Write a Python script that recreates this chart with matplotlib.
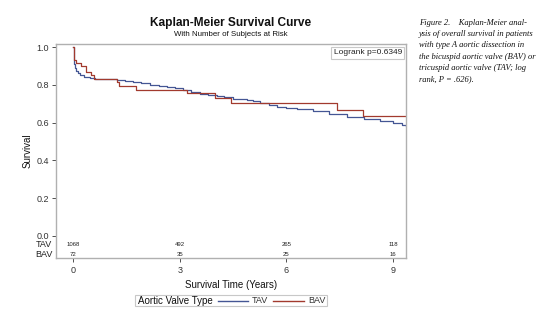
import matplotlib
matplotlib.use("Agg")
import matplotlib.pyplot as plt
from matplotlib.lines import Line2D
from matplotlib.patches import Rectangle

plt.rcParams['font.family'] = ['Liberation Sans', 'DejaVu Sans']

# ---- data ----
tav_t = [0, 0.01, 0.02, 0.04, 0.08, 0.13, 0.2, 0.31, 0.47, 0.6, 0.8, 1.0, 1.22, 1.45,
         1.68, 1.9, 2.16, 2.4, 2.63, 2.85, 3.09, 3.3, 3.57, 3.8, 4.04, 4.25, 4.5, 4.7,
         4.88, 5.05, 5.26, 5.5, 5.73, 6.0, 6.3, 6.75, 7.2, 7.7, 8.2, 8.64, 9.0, 9.25, 9.37]
tav_s = [1.0, 0.95, 0.91, 0.888, 0.875, 0.861, 0.853, 0.843, 0.838, 0.833, 0.831, 0.829,
         0.826, 0.819, 0.813, 0.807, 0.801, 0.795, 0.789, 0.782, 0.775, 0.763, 0.752, 0.745,
         0.739, 0.733, 0.727, 0.724, 0.721, 0.712, 0.704, 0.693, 0.683, 0.678, 0.671, 0.660,
         0.645, 0.630, 0.618, 0.607, 0.596, 0.587, 0.580]

bav_t = [0, 0.01, 0.03, 0.08, 0.22, 0.36, 0.50, 0.59, 1.22, 1.29, 1.77, 3.19, 3.99, 4.43,
         7.44, 8.17, 9.37]
bav_s = [1.0, 0.95, 0.93, 0.914, 0.897, 0.870, 0.852, 0.831, 0.815, 0.796, 0.775, 0.758,
         0.730, 0.704, 0.668, 0.633, 0.633]

risk_times = [0, 3, 6, 9]
tav_risk = ["1068", "492", "265", "118"]
bav_risk = ["72", "35", "25", "16"]

x_ticks = [0, 3, 6, 9]
y_ticks = [0.0, 0.2, 0.4, 0.6, 0.8, 1.0]

TAV_C = '#445694'
BAV_C = '#A23A2E'
FRAME = '#b0b0b0'

W, H = 554, 330
fig = plt.figure(figsize=(W / 100, H / 100), dpi=100)
ax = fig.add_axes([56 / W, 1 - 258 / H, (406 - 56) / W, (258 - 44) / H])

ax.plot(tav_t, tav_s, drawstyle='steps-post', color=TAV_C, lw=0.9)
ax.plot(bav_t, bav_s, drawstyle='steps-post', color=BAV_C, lw=0.9)

ax.set_xlim(-0.49, 9.37)
ax.set_ylim(-0.117, 1.016)
ax.set_xticks(x_ticks)
ax.set_yticks(y_ticks)
ax.set_yticklabels([f"{v:.1f}" for v in y_ticks])
ax.tick_params(axis='both', labelsize=6.5, colors='#333333', length=3, width=0.6,
               direction='out', pad=2)
ax.tick_params(axis='x', pad=3)
for s in ax.spines.values():
    s.set_color(FRAME)
    s.set_linewidth(1.0)

# at-risk table
ytav, ybav = -0.048, -0.097
for t, a, b in zip(risk_times, tav_risk, bav_risk):
    ax.text(t, ytav, a, ha='center', va='center', fontsize=4.3, color='#222222')
    ax.text(t, ybav, b, ha='center', va='center', fontsize=4.3, color='#222222')
ytr = ax.get_yaxis_transform()
ax.text(-0.01, ytav, "TAV", transform=ytr, ha='right', va='center', fontsize=6.5, color='#222222')
ax.text(-0.01, ybav, "BAV", transform=ytr, ha='right', va='center', fontsize=6.5, color='#222222')

ax.set_ylabel("Survival", fontsize=7, color='#111111', labelpad=3)
ax.set_xlabel("Survival Time (Years)", fontsize=7, color='#111111', labelpad=3)

ax.text(0.988, 0.975, "Logrank p=0.6349", transform=ax.transAxes, ha='right', va='top',
        fontsize=6, color='#222222',
        bbox=dict(boxstyle='square,pad=0.3', fc='white', ec='#c8c8c8', lw=0.8))

# titles
cx = (56 + 406) / 2 / W
fig.text(cx, 1 - 23 / H, "Kaplan-Meier Survival Curve", ha='center', va='center',
         fontsize=8.6, fontweight='bold', color='#111111')
fig.text(cx, 1 - 35 / H, "With Number of Subjects at Risk", ha='center', va='center',
         fontsize=5.7, color='#111111')

# legend (drawn manually, SAS style)
ly = 1 - 300.5 / H
fig.patches.append(Rectangle((135 / W, 1 - 306 / H), (327 - 135) / W, 11 / H,
                             transform=fig.transFigure, fc='white', ec='#c8c8c8', lw=0.8))
fig.text(138 / W, ly, "Aortic Valve Type", ha='left', va='center', fontsize=7, color='#111111')
fig.lines.append(Line2D([218 / W, 248 / W], [ly, ly], transform=fig.transFigure, color=TAV_C, lw=1.0))
fig.text(252 / W, ly, "TAV", ha='left', va='center', fontsize=6.5, color='#333333')
fig.lines.append(Line2D([273 / W, 304 / W], [ly, ly], transform=fig.transFigure, color=BAV_C, lw=1.0))
fig.text(308 / W, ly, "BAV", ha='left', va='center', fontsize=6.5, color='#333333')

# caption
cap = ["Figure 2.    Kaplan-Meier anal-",
       "ysis of overall survival in patients",
       "with type A aortic dissection in",
       "the bicuspid aortic valve (BAV) or",
       "tricuspid aortic valve (TAV; log",
       "rank, P = .626)."]
for i, line in enumerate(cap):
    fig.text(419 / W, 1 - (22.7 + i * 11.3) / H, line, ha='left', va='center',
             fontsize=6.1, fontstyle='italic', family=['Liberation Serif', 'DejaVu Serif'],
             color='#111111')

fig.savefig("out.png", dpi=100)
